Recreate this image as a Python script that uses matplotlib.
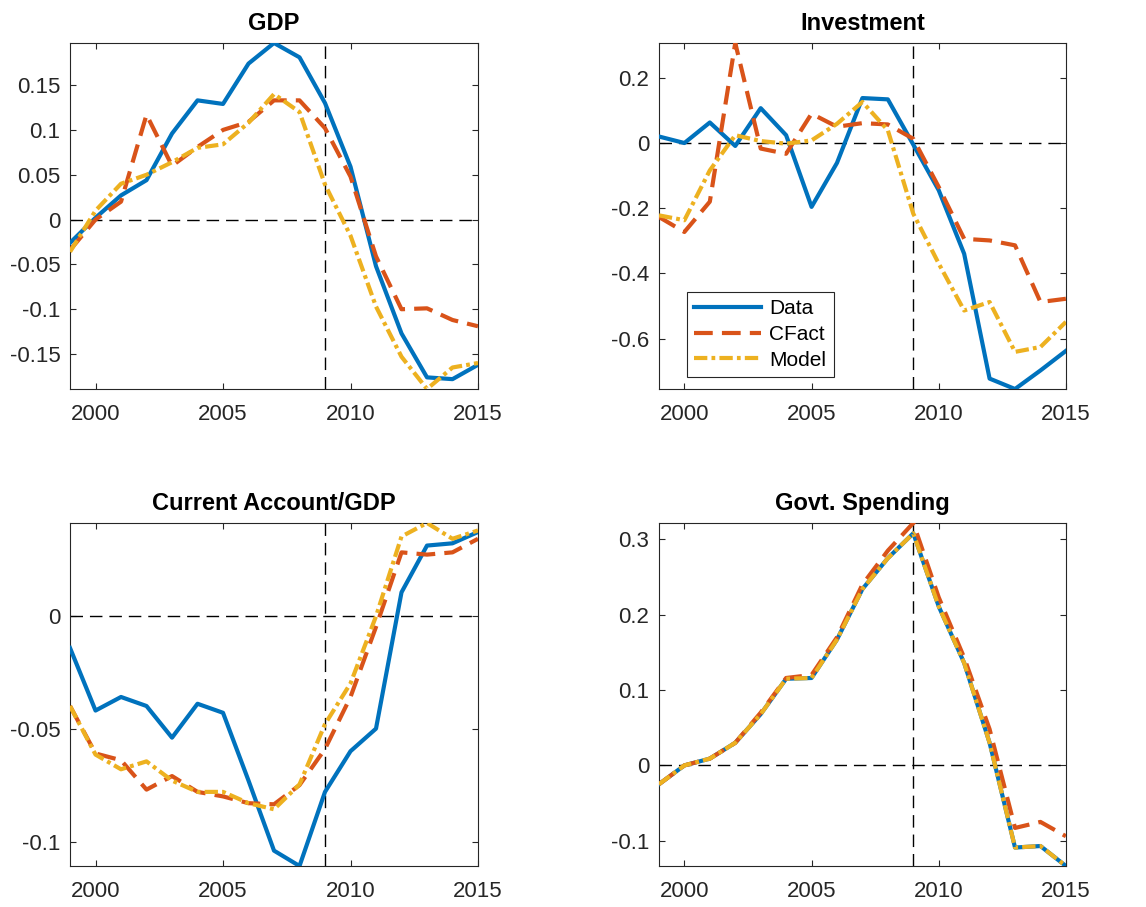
import matplotlib
matplotlib.use('Agg')
import matplotlib.pyplot as plt

plt.rcParams['font.family'] = ['Liberation Sans', 'DejaVu Sans']

# Years shown in every panel
anios = list(range(1999, 2016))

# GDP
gdp_data = [-0.026, 0.002, 0.027, 0.044, 0.096, 0.133, 0.129, 0.174, 0.197, 0.181,
            0.130, 0.059, -0.052, -0.127, -0.176, -0.178, -0.162]
gdp_cfact = [-0.034, 0.0, 0.020, 0.117, 0.060, 0.081, 0.100, 0.109, 0.133, 0.133,
             0.102, 0.048, -0.041, -0.100, -0.099, -0.112, -0.119]
gdp_model = [-0.036, 0.010, 0.040, 0.050, 0.064, 0.080, 0.084, 0.108, 0.140, 0.120,
             0.039, -0.018, -0.097, -0.153, -0.189, -0.165, -0.160]

# Investment
inv_data = [0.020, 0.0, 0.063, -0.009, 0.107, 0.024, -0.196, -0.061, 0.138, 0.134,
            -0.005, -0.145, -0.340, -0.723, -0.755, -0.698, -0.638]
inv_cfact = [-0.227, -0.273, -0.180, 0.307, -0.017, -0.033, 0.090, 0.050, 0.061, 0.057,
             0.013, -0.135, -0.294, -0.299, -0.314, -0.488, -0.478]
inv_model = [-0.222, -0.237, -0.084, 0.024, 0.006, -0.002, 0.008, 0.059, 0.126, 0.039,
             -0.217, -0.370, -0.514, -0.488, -0.641, -0.626, -0.549]

# Current Account/GDP
ca_data = [-0.0143, -0.042, -0.036, -0.040, -0.054, -0.039, -0.043, -0.073, -0.104, -0.1108,
           -0.078, -0.060, -0.050, 0.0103, 0.031, 0.032, 0.037]
ca_cfact = [-0.040, -0.061, -0.064, -0.077, -0.071, -0.078, -0.080, -0.083, -0.0835, -0.075,
            -0.059, -0.036, -0.005, 0.028, 0.027, 0.028, 0.034]
ca_model = [-0.040, -0.0615, -0.068, -0.0645, -0.073, -0.078, -0.078, -0.083, -0.0857, -0.0747,
            -0.048, -0.030, -0.0003, 0.035, 0.041, 0.034, 0.0377]

# Govt. Spending
gs_data = [-0.025, 0.0, 0.009, 0.030, 0.068, 0.115, 0.116, 0.167, 0.234, 0.275,
           0.308, 0.211, 0.136, 0.030, -0.109, -0.107, -0.1335]
gs_cfact = [-0.025, 0.0, 0.009, 0.030, 0.070, 0.116, 0.120, 0.170, 0.240, 0.285,
            0.3217, 0.223, 0.143, 0.048, -0.083, -0.075, -0.094]
gs_model = list(gs_data)

titulos = ['GDP', 'Investment', 'Current Account/GDP', 'Govt. Spending']
series = [(gdp_data, gdp_cfact, gdp_model),
          (inv_data, inv_cfact, inv_model),
          (ca_data, ca_cfact, ca_model),
          (gs_data, gs_cfact, gs_model)]
yticks = [[-0.15, -0.1, -0.05, 0, 0.05, 0.1, 0.15],
          [-0.6, -0.4, -0.2, 0, 0.2],
          [-0.1, -0.05, 0],
          [-0.1, 0, 0.1, 0.2, 0.3]]
etiquetas_legenda = ['Data', 'CFact', 'Model']

# Colores por defecto de MATLAB
azul = '#0072BD'
rojo = '#D95319'
amarillo = '#EDB120'
gris = '#262626'

fig = plt.figure(figsize=(11.46, 9.07), dpi=100)
posiciones = [[0.0611, 0.5711, 0.356, 0.3815],
              [0.5750, 0.5711, 0.3551, 0.3815],
              [0.0611, 0.0452, 0.356, 0.3782],
              [0.5750, 0.0452, 0.3551, 0.3782]]

for i in range(4):
    ax = fig.add_axes(posiciones[i])
    datos, cfact, modelo = series[i]
    lw = 3.0
    ax.plot(anios, datos, color=azul, lw=lw, label=etiquetas_legenda[0], zorder=3)
    ax.plot(anios, cfact, color=rojo, lw=lw, dashes=(4.5, 2.2), label=etiquetas_legenda[1], zorder=4)
    ax.plot(anios, modelo, color=amarillo, lw=lw, dashes=(3.2, 1.0, 0.9, 1.0), label=etiquetas_legenda[2], zorder=5)

    # Lineas de referencia
    ax.axhline(0, color='black', lw=1.0, dashes=(9, 5), zorder=2)
    ax.axvline(2009, color='black', lw=1.0, dashes=(9, 5), zorder=2)

    todos = datos + cfact + modelo
    ax.set_xlim(1999, 2015)
    ax.set_ylim(min(todos), max(todos))
    ax.set_xticks([2000, 2005, 2010, 2015])
    ax.set_yticks(yticks[i])
    ax.set_yticklabels([('%g' % v) for v in yticks[i]])

    ax.tick_params(direction='in', top=True, right=True, length=4, width=0.8,
                   colors=gris, labelsize=16)
    ax.tick_params(axis='x', pad=11)
    ax.tick_params(axis='y', pad=7)
    for sp in ax.spines.values():
        sp.set_color(gris)
        sp.set_linewidth(0.8)

    ax.set_title(titulos[i], fontsize=17, fontweight='bold', pad=9)

    if i == 1:
        leg = ax.legend(loc='lower left', bbox_to_anchor=(0.069, 0.035), borderaxespad=0,
                        fontsize=15, fancybox=False, framealpha=1, edgecolor=gris,
                        handlelength=3.2, handletextpad=0.4, labelspacing=0.32,
                        borderpad=0.35)
        leg.get_frame().set_linewidth(0.8)

fig.savefig('out.png', dpi=100)
